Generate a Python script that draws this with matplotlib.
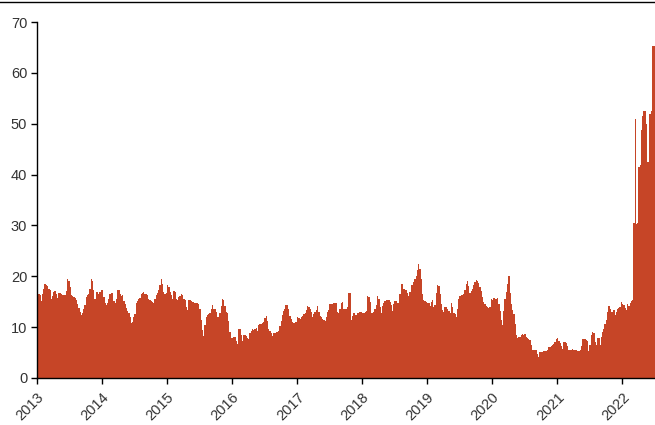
import matplotlib
matplotlib.use("Agg")
import matplotlib.pyplot as plt
import matplotlib.dates as mdates
from matplotlib.lines import Line2D
import pandas as pd

# Weekly values, one list per calendar year
y2013 = [16.4, 16.5, 16.3, 15.2, 16.5, 17.6, 18.4, 18.3, 18.0, 17.5, 17.4, 15.6, 16.2,
         17.0, 17.1, 16.5, 15.8, 16.8, 16.7, 16.6, 16.4, 16.3, 16.4, 17.2, 19.5, 19.0,
         17.8, 16.3, 16.2, 16.0, 15.7, 15.3, 14.6, 13.8, 13.0, 12.4, 12.8, 13.5, 14.3,
         16.0, 16.3, 16.5, 17.6, 19.5, 19.0, 17.3, 15.5, 16.9, 17.0, 16.6, 17.0, 17.3]
y2014 = [17.3, 16.0, 14.8, 14.3, 14.7, 15.5, 16.5, 16.7, 16.7, 15.1, 14.8, 15.5, 17.4,
         17.3, 16.5, 16.2, 16.4, 15.1, 14.5, 13.8, 13.1, 12.8, 12.0, 10.8, 11.0, 12.0,
         12.5, 14.8, 15.2, 15.5, 15.8, 16.5, 16.8, 16.9, 16.6, 16.5, 16.4, 15.6, 15.3,
         15.1, 15.0, 14.8, 15.5, 16.3, 16.8, 17.3, 18.2, 19.5, 18.4, 17.0, 16.5, 16.8]
y2015 = [18.2, 17.8, 17.0, 16.3, 15.6, 17.1, 17.0, 15.5, 15.3, 16.0, 16.2, 16.6, 16.3,
         15.6, 15.4, 14.0, 13.4, 15.3, 15.3, 15.1, 15.0, 14.9, 14.8, 14.7, 14.7, 14.6,
         13.5, 11.5, 9.5, 8.3, 10.5, 12.0, 12.3, 12.5, 12.7, 13.5, 14.3, 13.6, 13.5,
         13.0, 11.9, 12.0, 12.8, 14.2, 15.6, 15.3, 14.2, 13.0, 12.7, 11.2, 9.0, 7.9]
y2016 = [7.9, 8.1, 8.0, 7.3, 6.6, 9.6, 9.7, 8.5, 7.3, 8.4, 8.4, 8.2, 7.9,
         7.6, 8.8, 9.3, 9.6, 9.4, 9.7, 9.9, 9.3, 10.4, 10.6, 10.7, 10.8, 11.0,
         11.8, 12.1, 11.2, 9.6, 9.2, 8.8, 8.3, 8.9, 8.9, 9.0, 9.0, 9.3, 10.2,
         11.3, 12.3, 13.2, 13.6, 14.3, 14.3, 13.5, 12.1, 11.6, 11.0, 10.9, 10.9, 11.1]
y2017 = [11.9, 11.8, 11.7, 11.9, 12.2, 12.5, 12.8, 13.3, 14.1, 14.0, 13.5, 13.0, 11.9,
         12.5, 12.9, 13.3, 14.1, 13.0, 12.2, 11.9, 11.7, 11.5, 11.3, 12.0, 13.0, 13.3,
         14.5, 14.5, 14.6, 14.8, 14.8, 14.8, 13.0, 12.8, 13.5, 14.8, 14.9, 13.6, 13.5,
         13.5, 14.0, 16.7, 16.7, 11.5, 12.2, 12.8, 12.4, 12.4, 12.7, 12.8, 13.0, 13.0]
y2018 = [12.8, 12.8, 13.0, 13.2, 16.2, 16.0, 15.0, 12.8, 12.8, 13.0, 13.6, 14.3, 16.2,
         15.6, 14.0, 12.8, 14.1, 14.8, 15.2, 15.3, 15.4, 15.4, 15.0, 14.3, 13.2, 14.5,
         15.1, 15.1, 14.8, 14.7, 16.5, 18.4, 18.4, 17.6, 17.4, 17.4, 16.7, 16.2, 17.0,
         18.2, 18.2, 18.8, 19.5, 20.0, 21.3, 22.4, 21.5, 19.5, 16.5, 15.3, 15.1, 14.9]
y2019 = [14.8, 14.7, 14.2, 15.0, 15.3, 13.9, 14.3, 16.8, 18.3, 18.0, 16.5, 14.5, 13.3,
         12.9, 14.0, 13.9, 13.5, 13.1, 12.8, 14.8, 14.0, 12.7, 12.5, 12.0, 13.5, 15.5,
         16.1, 16.3, 16.4, 16.6, 17.4, 18.5, 19.0, 18.0, 16.8, 17.2, 17.6, 18.2, 18.8,
         19.3, 19.1, 18.6, 17.9, 17.2, 16.0, 15.0, 14.5, 14.2, 13.9, 13.8, 14.0, 15.5]
y2020 = [15.4, 15.8, 15.5, 15.5, 15.8, 14.5, 13.2, 11.5, 10.5, 13.2, 15.5, 17.0, 18.5,
         20.0, 16.8, 14.5, 13.4, 12.5, 10.6, 8.5, 7.9, 8.0, 8.1, 8.4, 8.6, 8.5,
         8.6, 8.0, 7.8, 7.7, 7.5, 6.5, 5.6, 5.5, 5.6, 5.5, 4.8, 4.2, 5.1,
         5.1, 5.2, 5.3, 5.3, 5.3, 5.6, 6.0, 6.0, 6.2, 6.5, 6.7, 7.0, 7.7]
y2021 = [7.8, 7.3, 6.8, 6.2, 5.7, 7.0, 7.0, 6.9, 6.3, 5.6, 5.5, 5.5, 5.8,
         5.6, 5.5, 5.5, 5.3, 5.3, 5.6, 6.3, 7.6, 7.6, 7.6, 7.5, 7.3, 5.3,
         6.5, 8.5, 9.0, 8.9, 7.0, 6.5, 7.9, 7.9, 6.5, 8.0, 9.0, 9.6, 10.6,
         11.5, 13.0, 14.1, 13.5, 12.9, 13.0, 13.3, 12.3, 13.0, 13.5, 13.7, 14.0, 14.9]
y2022 = [14.5, 14.3, 13.8, 13.4, 14.5, 14.1, 14.8, 15.1, 15.4, 30.4, 50.9, 30.2, 30.5,
         41.5, 41.8, 48.7, 51.6, 52.6, 52.6, 50.0, 42.5, 42.5, 51.9, 52.6, 65.3, 65.3,
         65.3]

years = [2013, 2014, 2015, 2016, 2017, 2018, 2019, 2020, 2021, 2022]
series = [y2013, y2014, y2015, y2016, y2017, y2018, y2019, y2020, y2021, y2022]

dates = []
values = []
for yr, vals in zip(years, series):
    start = pd.Timestamp(f"{yr}-01-01")
    for i, v in enumerate(vals):
        dates.append(start + pd.Timedelta(days=7 * i))
        values.append(v)

bar_color = "#C64527"

fig = plt.figure(figsize=(6.55, 4.25), dpi=100)
ax = fig.add_axes([0.0565, 0.1106, 0.9435, 0.8374])

# slightly overlapping weekly bars so the area reads as one solid fill
ax.bar(dates, values, width=7.8, align="edge", color=bar_color, linewidth=0)

ax.set_ylim(0, 70)
ax.set_yticks(range(0, 71, 10))
ax.set_xlim(pd.Timestamp("2013-01-01"), pd.Timestamp("2022-07-05"))
ax.xaxis.set_major_locator(mdates.YearLocator())
ax.xaxis.set_major_formatter(mdates.DateFormatter("%Y"))

for s in ("top", "right"):
    ax.spines[s].set_visible(False)
for s in ("left", "bottom"):
    ax.spines[s].set_color("black")
    ax.spines[s].set_linewidth(1.0)

ax.tick_params(axis="both", direction="out", length=4, width=1, color="black",
               labelsize=10.5, labelcolor="#333333")
ax.tick_params(axis="y", pad=3)
ax.tick_params(axis="x", pad=5)
for lab in ax.get_xticklabels():
    lab.set_rotation(45)
    lab.set_ha("right")
    lab.set_rotation_mode("anchor")
    lab.set_fontfamily("Liberation Sans")
for lab in ax.get_yticklabels():
    lab.set_fontfamily("Liberation Sans")

# thin rule along the top of the figure
fig.add_artist(Line2D([0, 1], [1 - 1.5 / 425, 1 - 1.5 / 425],
                      transform=fig.transFigure, color="black", linewidth=1.0))

fig.savefig("out.png", dpi=100)
